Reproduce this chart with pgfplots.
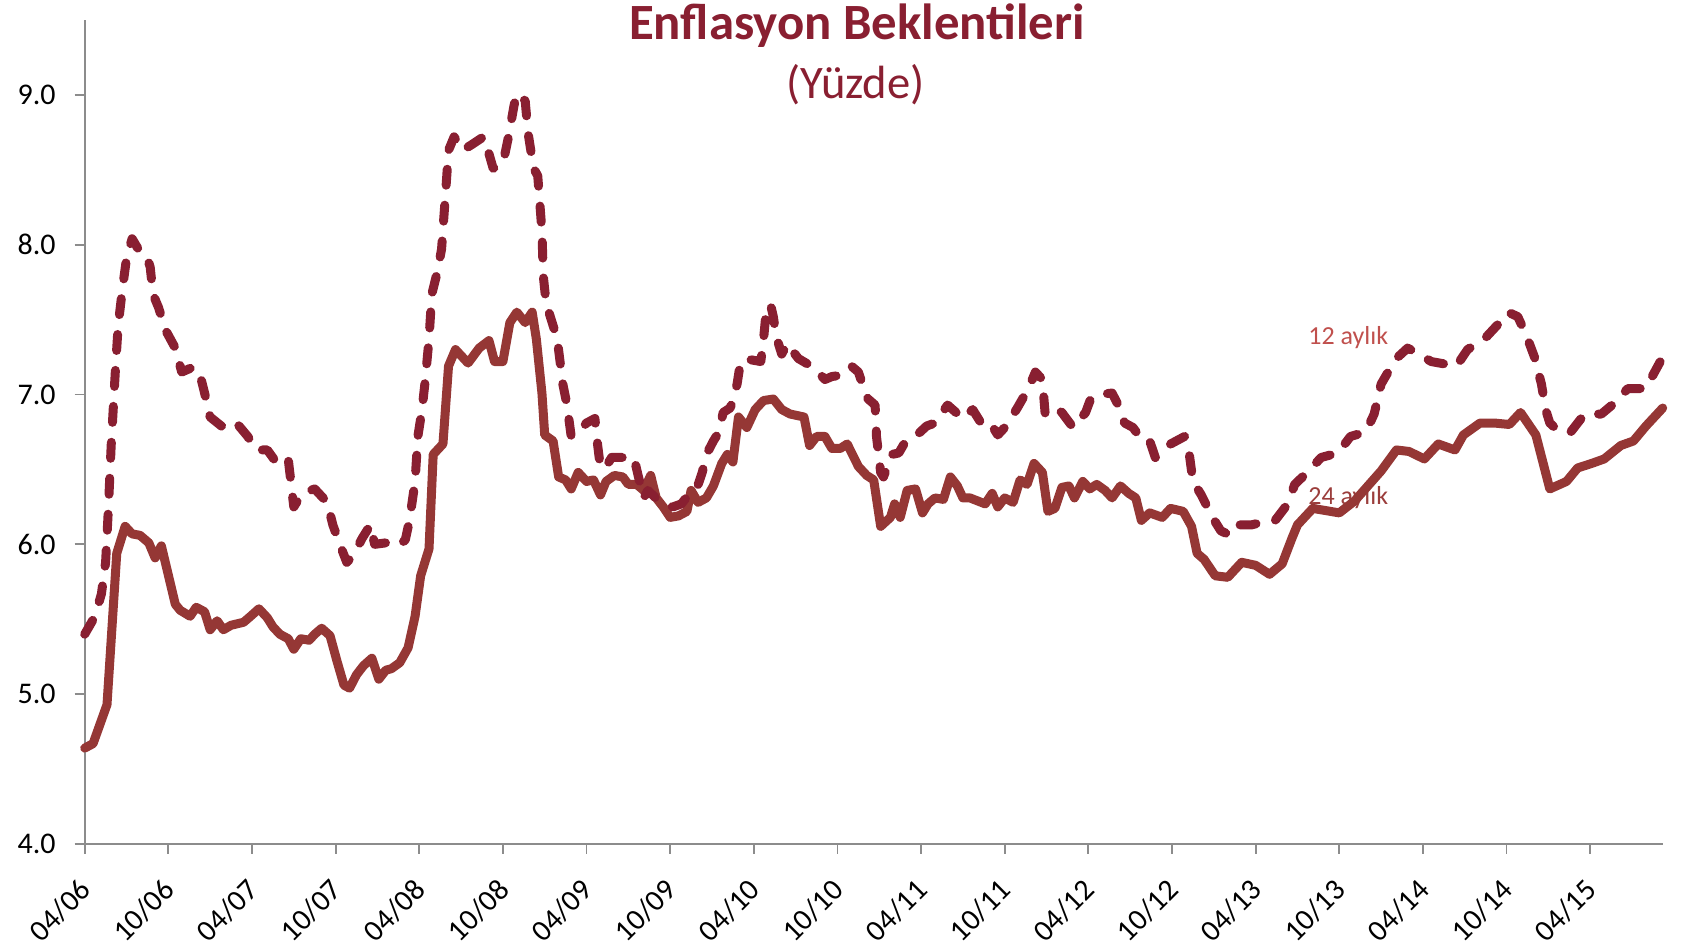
\documentclass[border=0pt]{standalone}
\usepackage{fontspec}
\setmainfont{Carlito}
\usepackage{pgfplots}
\usepackage{pgfplotstable}
\pgfplotsset{compat=1.18}
\definecolor{dashcol}{HTML}{891F31}
\definecolor{solidcol}{HTML}{953735}
\definecolor{lblA}{HTML}{C0504D}
\definecolor{lblB}{HTML}{9B3D3B}
\definecolor{axgray}{HTML}{8C8C8C}

\pgfplotstableread{
m v
0 4.64
0.6 4.67
1.6 4.93
2.3 5.94
2.9 6.12
3.4 6.07
3.97 6.06
4.6 6.01
5.05 5.91
5.5 5.99
6.5 5.60
6.85 5.56
7.56 5.52
8.0 5.58
8.6 5.55
9.0 5.43
9.5 5.49
9.95 5.43
10.5 5.46
11.4 5.48
11.9 5.52
12.5 5.57
13.1 5.51
13.5 5.45
14.0 5.40
14.6 5.37
15.0 5.30
15.5 5.37
16.1 5.36
16.5 5.40
17.0 5.44
17.6 5.39
18.1 5.22
18.6 5.06
19.0 5.04
19.5 5.13
20.0 5.19
20.6 5.24
21.1 5.10
21.6 5.16
22.0 5.17
22.6 5.21
23.2 5.31
23.7 5.52
24.1 5.79
24.7 5.97
25.0 6.60
25.7 6.67
26.1 7.19
26.6 7.30
27.1 7.25
27.5 7.21
28.3 7.31
29.0 7.36
29.4 7.22
30.0 7.22
30.5 7.48
31.0 7.55
31.6 7.48
32.1 7.55
32.4 7.37
32.8 7.01
33.0 6.73
33.6 6.69
34.0 6.45
34.5 6.43
34.9 6.37
35.4 6.48
36.0 6.42
36.5 6.43
37.0 6.33
37.4 6.42
38.0 6.46
38.6 6.45
39.0 6.40
39.6 6.40
40.1 6.36
40.6 6.46
41.0 6.31
41.5 6.25
42.0 6.18
42.6 6.19
43.2 6.22
43.5 6.36
44.0 6.28
44.6 6.31
45.1 6.39
45.7 6.54
46.1 6.60
46.5 6.55
46.9 6.85
47.5 6.78
48.1 6.90
48.7 6.96
49.4 6.97
50.0 6.90
50.6 6.87
51.6 6.85
52.0 6.66
52.5 6.72
53.1 6.72
53.6 6.64
54.2 6.64
54.7 6.67
55.5 6.52
56.1 6.46
56.6 6.43
57.1 6.12
57.8 6.18
58.1 6.27
58.5 6.18
59.0 6.36
59.6 6.37
60.1 6.21
60.5 6.27
61.0 6.31
61.6 6.30
62.1 6.45
62.6 6.39
63.0 6.31
63.5 6.31
64.6 6.27
65.1 6.34
65.5 6.25
66.0 6.31
66.6 6.28
67.1 6.43
67.6 6.40
68.1 6.54
68.7 6.48
69.1 6.22
69.6 6.24
70.1 6.38
70.6 6.39
71.0 6.31
71.6 6.42
72.1 6.37
72.6 6.40
73.2 6.36
73.7 6.31
74.3 6.39
74.9 6.34
75.4 6.31
75.8 6.16
76.4 6.21
77.3 6.18
77.9 6.24
78.8 6.22
79.4 6.12
79.8 5.94
80.3 5.90
81.1 5.79
82.0 5.78
83.0 5.88
84.0 5.86
85.0 5.80
85.9 5.87
86.6 6.04
87.0 6.13
88.1 6.24
90.0 6.21
91.1 6.29
93.0 6.49
94.1 6.63
95.0 6.62
96.1 6.57
97.1 6.67
98.3 6.63
98.9 6.73
100.1 6.81
101.1 6.81
102.2 6.80
103.0 6.88
104.1 6.73
105.1 6.37
106.3 6.42
107.1 6.51
108.1 6.54
109.0 6.57
110.2 6.66
111.1 6.69
112.0 6.79
113.2 6.91
}\twentyfour

\pgfplotstableread{
m v
0 5.40
0.74 5.52
1.2 5.67
1.5 5.88
1.7 6.24
1.9 6.66
2.2 7.16
2.4 7.46
2.7 7.70
3.0 7.91
3.4 8.04
3.85 7.97
4.4 7.94
4.7 7.85
4.9 7.67
5.3 7.58
5.8 7.43
6.5 7.31
6.96 7.15
7.7 7.18
8.2 7.16
8.6 7.01
9.0 6.85
9.8 6.79
10.8 6.82
11.7 6.72
12.3 6.63
13.1 6.63
13.8 6.54
14.6 6.57
15.0 6.25
15.6 6.34
16.5 6.37
17.4 6.28
17.8 6.13
18.3 6.00
18.8 5.88
19.3 5.93
19.9 6.04
20.5 6.13
20.8 6.00
21.6 6.01
22.5 5.99
23.0 6.03
23.3 6.16
23.7 6.42
23.9 6.72
24.2 6.90
24.4 7.07
24.7 7.37
24.9 7.67
25.3 7.82
25.6 7.97
25.9 8.36
26.1 8.63
26.5 8.72
27.1 8.63
27.8 8.67
28.6 8.72
28.9 8.64
29.3 8.51
30.0 8.54
30.4 8.72
30.8 8.93
31.0 9.01
31.6 8.96
31.8 8.75
32.2 8.51
32.5 8.46
32.8 8.09
32.9 7.79
33.1 7.61
33.5 7.49
33.9 7.37
34.1 7.22
34.3 7.07
34.6 6.93
34.9 6.72
35.4 6.75
36.0 6.81
36.6 6.84
36.8 6.66
37.0 6.51
37.4 6.52
37.8 6.58
38.6 6.58
39.4 6.58
39.7 6.46
40.1 6.31
40.4 6.36
41.3 6.28
42.2 6.25
42.8 6.27
43.4 6.34
43.9 6.37
44.3 6.48
44.6 6.60
45.1 6.69
45.5 6.75
45.8 6.88
46.3 6.91
46.5 6.96
46.8 7.07
47.0 7.19
47.3 7.24
48.5 7.22
48.7 7.37
48.9 7.57
49.2 7.60
49.4 7.52
49.6 7.39
50.0 7.27
50.4 7.34
50.7 7.30
51.2 7.24
52.3 7.18
53.1 7.10
53.6 7.12
54.3 7.13
55.0 7.19
55.5 7.15
55.9 7.04
56.2 6.97
56.7 6.93
56.8 6.72
57.1 6.48
57.3 6.45
57.9 6.60
58.4 6.61
58.9 6.69
59.7 6.73
60.4 6.79
61.0 6.81
61.9 6.93
63.0 6.84
63.7 6.90
64.5 6.78
65.1 6.79
65.5 6.73
66.1 6.79
66.9 6.91
67.7 7.04
68.2 7.15
68.7 7.10
68.9 6.87
69.6 6.91
70.1 6.88
70.9 6.78
71.8 6.88
72.2 6.98
72.8 7.00
73.7 7.01
74.3 6.90
74.6 6.81
75.2 6.78
75.9 6.69
76.4 6.69
76.8 6.58
77.9 6.67
78.9 6.72
79.2 6.63
79.5 6.42
80.1 6.33
80.9 6.18
81.5 6.09
82.2 6.06
82.8 6.13
83.7 6.13
84.6 6.15
85.4 6.16
86.3 6.27
86.8 6.40
87.7 6.48
88.7 6.58
89.9 6.61
90.8 6.72
91.9 6.75
92.5 6.87
93.0 7.07
93.5 7.15
94.2 7.25
94.9 7.31
95.5 7.28
96.6 7.22
98.4 7.19
99.2 7.30
100.5 7.38
101.5 7.48
102.1 7.55
102.8 7.52
103.4 7.40
104.0 7.25
104.5 7.07
104.8 6.90
105.1 6.81
105.8 6.75
106.6 6.75
107.6 6.87
108.8 6.87
109.7 6.94
110.7 7.04
112.0 7.04
112.5 7.13
113.2 7.25
}\twelve

\begin{document}
\begin{tikzpicture}
\begin{axis}[
  at={(0,0)}, anchor=south west,
  scale only axis, width=789pt, height=412pt,
  xmin=0, xmax=113.2, ymin=4, ymax=9.5,
  axis lines=left,
  axis line style={-, draw=axgray, line width=0.9pt},
  tick align=outside,
  major tick length=5pt,
  tick style={draw=axgray, line width=0.9pt},
  xtick={0,6,...,108},
  xticklabels={04/06,10/06,04/07,10/07,04/08,10/08,04/09,10/09,04/10,10/10,04/11,10/11,04/12,10/12,04/13,10/13,04/14,10/14,04/15},
  ytick={4,5,6,7,8,9},
  yticklabels={4.0,5.0,6.0,7.0,8.0,9.0},
  tick label style={font=\fontsize{15}{18}\selectfont, text=black},
  xticklabel style={yshift=-13pt, xshift=3pt, rotate=45, anchor=east},
  yticklabel style={xshift=-6pt},
  clip=false,
]
\node[font=\fontsize{13}{15}\selectfont, text=lblA, anchor=base] at (axis cs:90.64,7.332) {12 aylık};
\node[font=\fontsize{13}{15}\selectfont, text=lblB, anchor=base] at (axis cs:90.64,6.266) {24 aylık};
\addplot[solidcol, line width=4.5pt, line join=round, line cap=round] table[x=m, y=v] {\twentyfour};
\addplot[dashcol, line width=4.5pt, line join=round, line cap=round, dash pattern=on 8pt off 10pt] table[x=m, y=v] {\twelve};
\node[font=\bfseries\fontsize{25.4}{30}\selectfont, text=dashcol, anchor=base] at (axis cs:55.4,9.373) {Enflasyon Beklentileri};
\node[font=\fontsize{23.3}{28}\selectfont, text=dashcol, anchor=base] at (axis cs:55.3,8.974) {(Yüzde)};
\end{axis}
\pgfresetboundingbox
\path[use as bounding box] (-42.35pt,-50.5pt) rectangle (798.15pt,422pt);
\end{tikzpicture}
\end{document}
